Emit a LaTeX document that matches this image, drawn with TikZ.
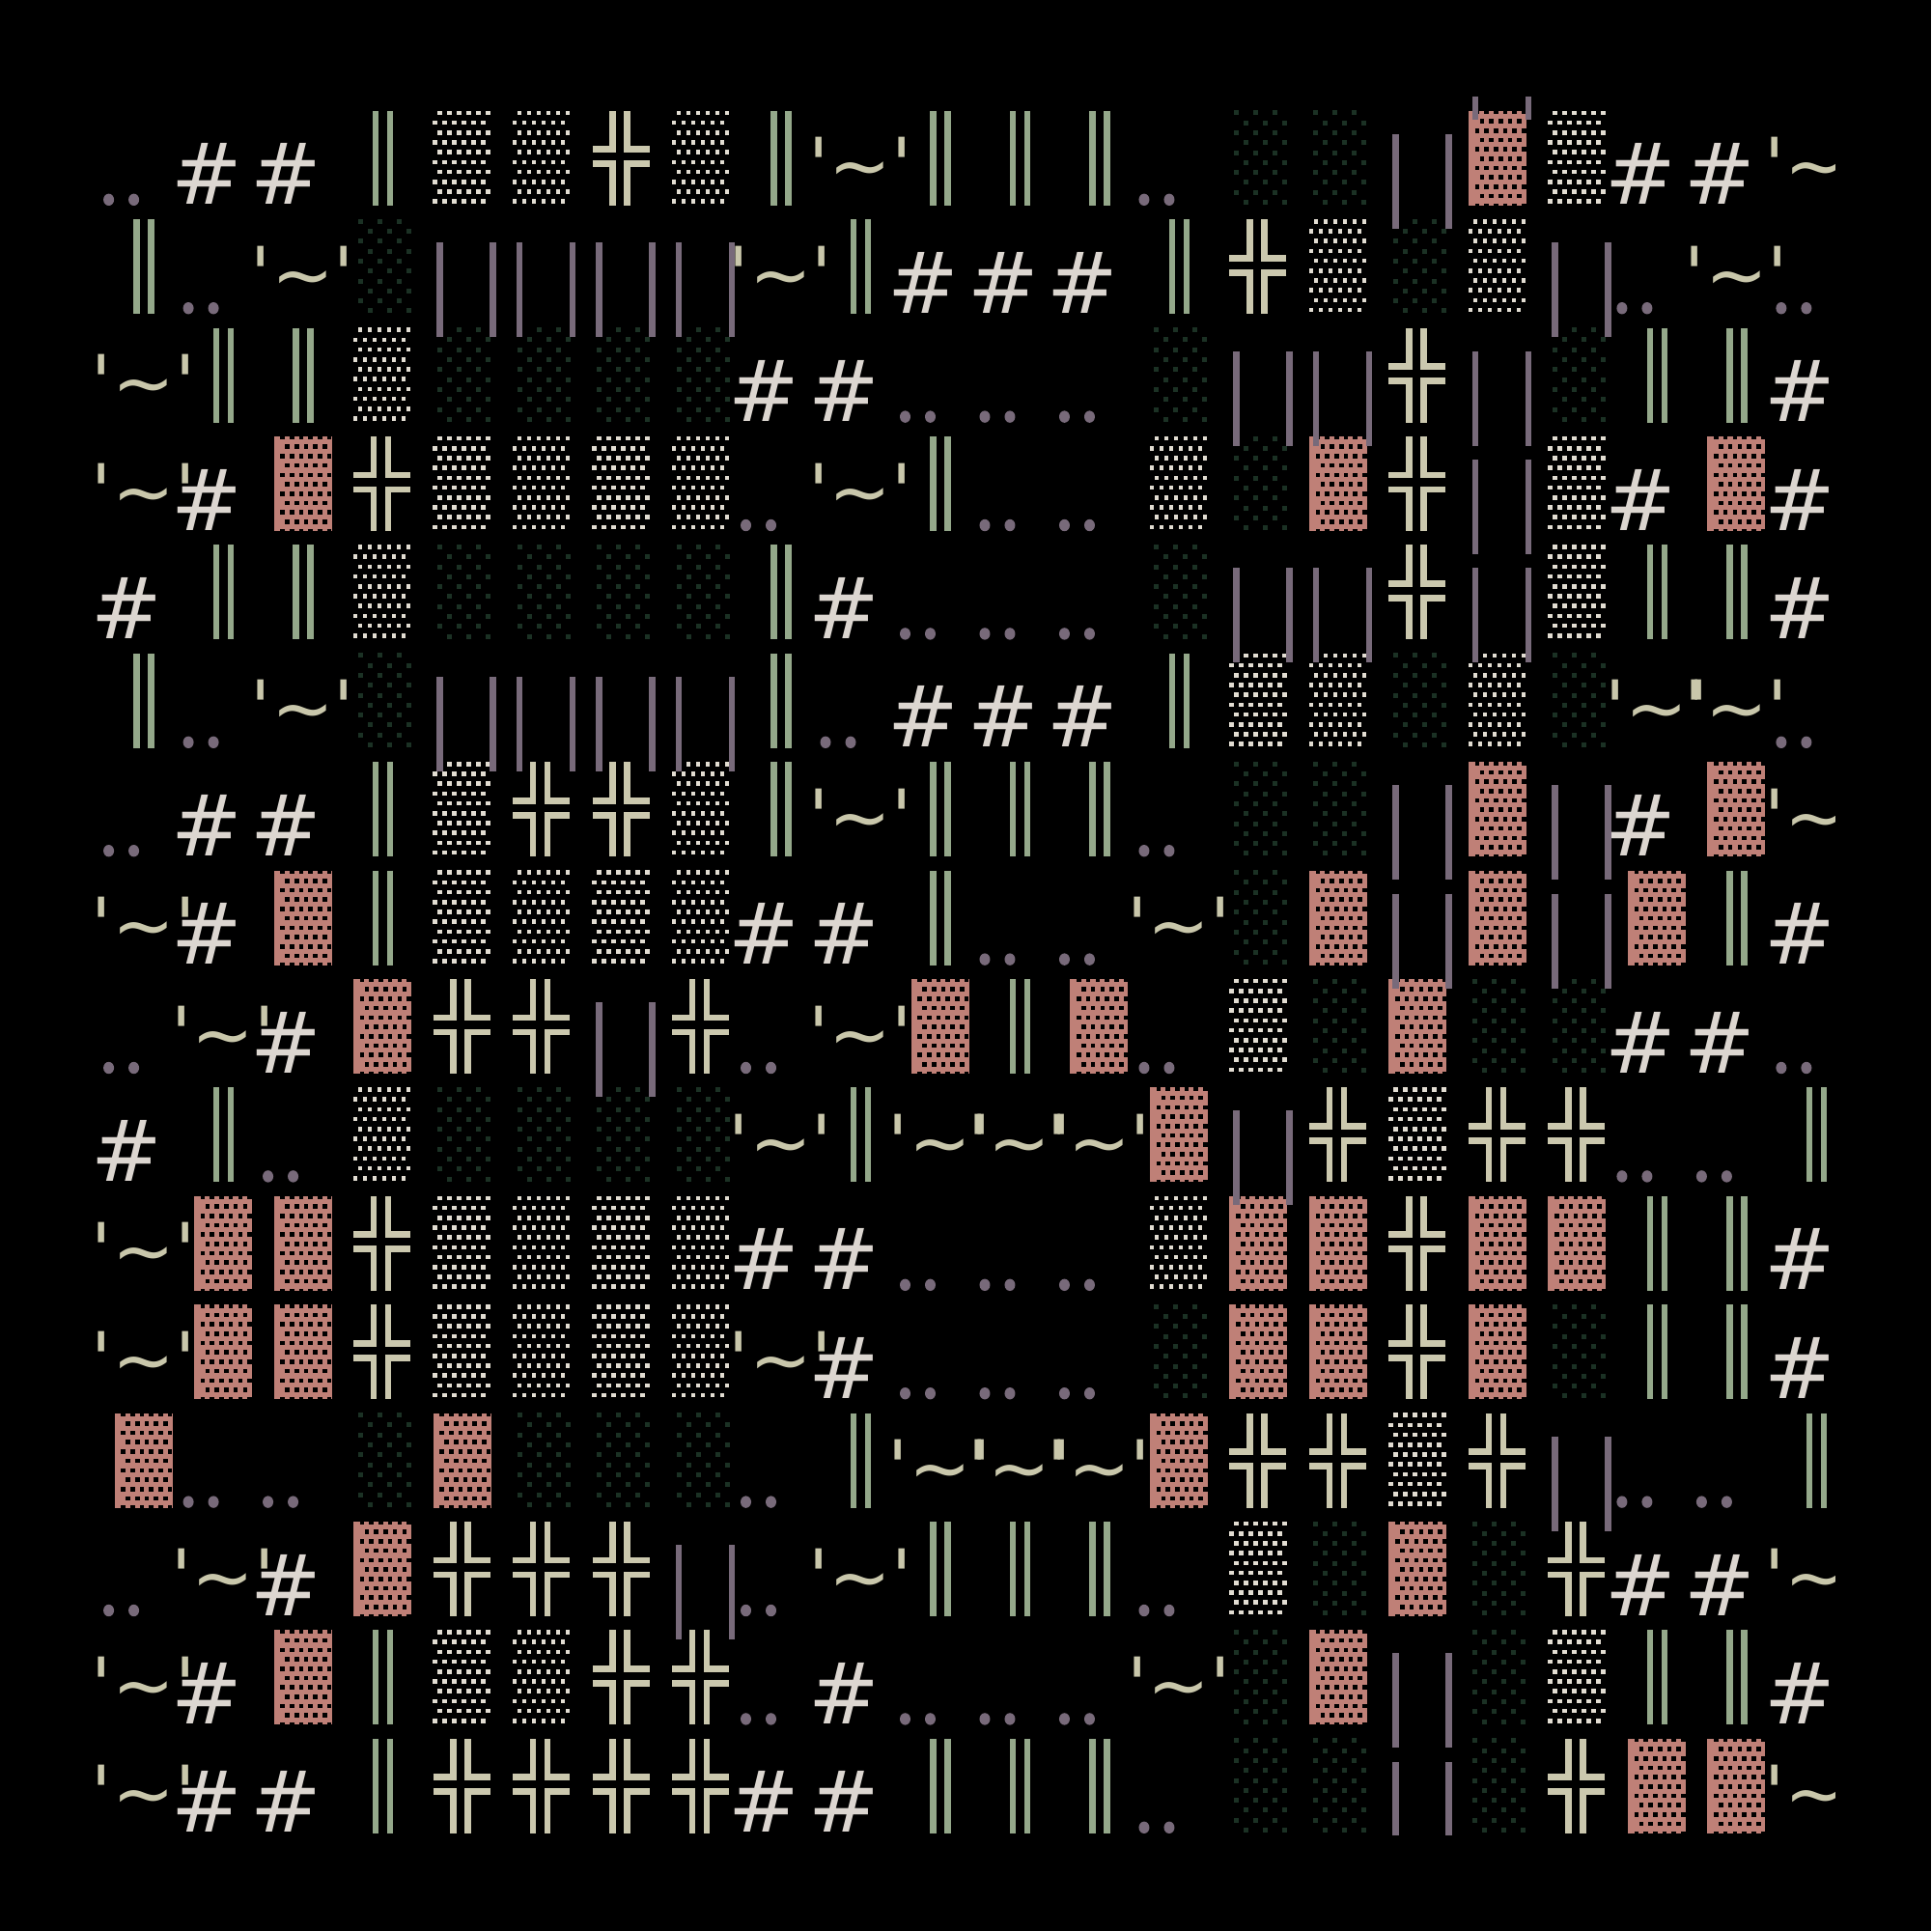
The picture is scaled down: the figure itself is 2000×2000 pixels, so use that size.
\documentclass[tikz,border=0pt]{standalone}
\usepackage{fontspec}
\newfontfamily\dvs{DejaVu Sans}
\definecolor{hashc}{HTML}{DCD6D0}
\definecolor{tildec}{HTML}{C9C7AB}
\definecolor{greenc}{HTML}{94A88A}
\definecolor{mauvec}{HTML}{786A7A}
\definecolor{pinkc}{HTML}{BF8077}
\definecolor{wdotc}{HTML}{E2DDD2}
\definecolor{kdotc}{HTML}{1B3124}
\definecolor{crossc}{HTML}{CBC8AE}
\tikzset{
  hashtxt/.style={font=\dvs\fontsize{25}{25}\selectfont,text=hashc,anchor=base,inner sep=0pt},
  tildetxt/.style={font=\dvs\fontsize{22}{22}\selectfont,text=tildec,anchor=base,inner sep=0pt},
  vline/.style={draw=greenc,line width=1.85pt},
  mline/.style={draw=mauvec,line width=1.85pt},
  xline/.style={draw=crossc,line width=1.9pt},
  ddot/.style={fill=mauvec},
}
\newcommand\cellH{\node[hashtxt] (h\r-\c) at (\Lx+13,\Ty+97) {\#};}
\newcommand\cellT{\node[tildetxt] (t\r-\c) at (\Lx+30,\Ty+84) {\char"27\char"7E\char"27};}
\newcommand\cellD{\fill[ddot] (\Lx-6,\Ty+92) ellipse (5.5 and 6.2);\fill[ddot] (\Lx+20,\Ty+92) ellipse (5.5 and 6.2);}
\newcommand\cellV{\draw[vline] (\Lx+23,\Ty) -- (\Lx+23,\Ty+98);\draw[vline] (\Lx+38,\Ty) -- (\Lx+38,\Ty+98);}
\newcommand\cellX{%
  \draw[xline] (\Lx,\Ty+40) -- (\Lx+21,\Ty+40) -- (\Lx+21,\Ty);
  \draw[xline] (\Lx+59,\Ty+40) -- (\Lx+36,\Ty+40) -- (\Lx+36,\Ty);
  \draw[xline] (\Lx,\Ty+55) -- (\Lx+21,\Ty+55) -- (\Lx+21,\Ty+98);
  \draw[xline] (\Lx+59,\Ty+55) -- (\Lx+36,\Ty+55) -- (\Lx+36,\Ty+98);}
\newcommand\cellW{\foreach \i in {0,...,9}{\pgfmathtruncatemacro\odd{mod(\i,2)}\pgfmathsetmacro\yy{\Ty+2+10.2*\i}%
  \ifnum\odd=0 \def\xo{7}\else\def\xo{2}\fi
  \foreach \j in {0,...,5}{\fill[wdotc] (\Lx+\xo+10*\j-2.3,\yy-2.3) rectangle ++(4.6,4.6);}}}
\newcommand\cellK{\foreach \i in {0,...,9}{\pgfmathtruncatemacro\odd{mod(\i,2)}\pgfmathsetmacro\yy{\Ty+2+10.3*\i}%
  \ifnum\odd=0 \def\xo{7}\else\def\xo{17}\fi
  \foreach \j in {0,1,2}{\fill[kdotc] (\Lx+\xo+20*\j-2.5,\yy-2.5) rectangle ++(5,5);}}}
\newcommand\cellP{\fill[pinkc] (\Lx,\Ty) rectangle (\Lx+60,\Ty+98);
  \foreach \i in {0,...,10}{\pgfmathtruncatemacro\odd{mod(\i,2)}\pgfmathsetmacro\yy{\Ty+1+9.7*\i}%
  \ifnum\odd=0 \foreach \j in {0,...,5}{\fill[black] (\Lx+9+9.7*\j-2.3,\yy-2.3) rectangle ++(4.6,4.6);}%
  \else \foreach \j in {0,...,4}{\fill[black] (\Lx+14+9.7*\j-2.3,\yy-2.3) rectangle ++(4.6,4.6);}\fi}}
\newcommand\mcellM{\draw[mline] (\Lx+7,\Ty+24) -- (\Lx+7,\Ty+122);\draw[mline] (\Lx+62,\Ty+24) -- (\Lx+62,\Ty+122);}
\def\griddata{{D,H,H,V,W,W,X,W,V,T,V,V,V,D,K,K,M,P,W,H,H,T},
{V,D,T,K,M,M,M,M,T,V,H,H,H,V,X,W,K,W,M,D,T,D},
{T,V,V,W,K,K,K,K,H,H,D,D,D,K,M,M,X,M,K,V,V,H},
{T,H,P,X,W,W,W,W,D,T,V,D,D,W,K,P,X,M,W,H,P,H},
{H,V,V,W,K,K,K,K,V,H,D,D,D,K,M,M,X,M,W,V,V,H},
{V,D,T,K,M,M,M,M,V,D,H,H,H,V,W,W,K,W,K,T,T,D},
{D,H,H,V,W,X,X,W,V,T,V,V,V,D,K,K,M,P,M,H,P,T},
{T,H,P,V,W,W,W,W,H,H,V,D,D,T,K,P,M,P,M,P,V,H},
{D,T,H,P,X,X,M,X,D,T,P,V,P,D,W,K,P,K,K,H,H,D},
{H,V,D,W,K,K,K,K,T,V,T,T,T,P,M,X,W,X,X,D,D,V},
{T,P,P,X,W,W,W,W,H,H,D,D,D,W,P,P,X,P,P,V,V,H},
{T,P,P,X,W,W,W,W,T,H,D,D,D,K,P,P,X,P,K,V,V,H},
{P,D,D,K,P,K,K,K,D,V,T,T,T,P,X,X,W,X,M,D,D,V},
{D,T,H,P,X,X,X,M,D,T,V,V,V,D,W,K,P,K,X,H,H,T},
{T,H,P,V,W,W,X,X,D,H,D,D,D,T,K,P,M,K,W,V,V,H},
{T,H,H,V,X,X,X,X,H,H,V,V,V,D,K,K,M,K,X,P,P,T}}
\begin{document}
\begin{tikzpicture}[x=0.1mm,y=-0.1mm]
\fill[black] (0,0) rectangle (2000,2000);
\useasboundingbox (0,0) rectangle (2000,2000);
\begin{scope}
\clip (100,100) rectangle (1900,1900);
\foreach \rowdata [count=\r from 0] in \griddata {
  \foreach \ty [count=\c from 0] in \rowdata {
    \pgfmathsetmacro\Lx{118.6+82.49*\c}\pgfmathsetmacro\Ty{114.8+112.4*\r}
    \csname cell\ty\endcsname
  }
}
\foreach \rowdata [count=\r from 0] in \griddata {
  \foreach \ty [count=\c from 0] in \rowdata {
    \pgfmathsetmacro\Lx{118.6+82.49*\c}\pgfmathsetmacro\Ty{114.8+112.4*\r}
    \csname mcell\ty\endcsname
  }
}
\pgfmathsetmacro\Lx{118.6+82.49*17}\pgfmathsetmacro\Ty{114.8-112.4}
\mcellM
\end{scope}
\end{tikzpicture}
\end{document}
